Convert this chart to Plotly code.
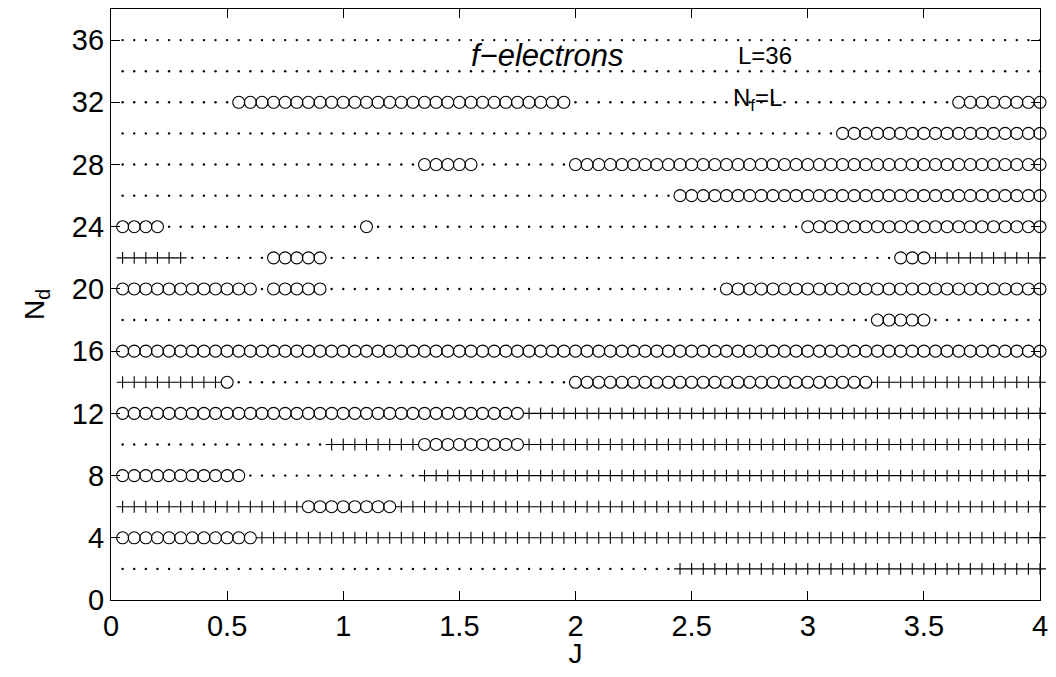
import plotly.graph_objects as go

# J grid: 0.05 ... 4.00 (80 points)
J_VALUES = [round(0.05 * k, 2) for k in range(1, 81)]

# Each row of N_d: run-length encoded marker codes ('.' dot, 'o' circle, '+' plus)
ROWS = {
    36: [(".", 80)],
    34: [(".", 80)],
    32: [(".", 10), ("o", 29), (".", 33), ("o", 8)],
    30: [(".", 62), ("o", 18)],
    28: [(".", 26), ("o", 5), (".", 8), ("o", 41)],
    26: [(".", 48), ("o", 32)],
    24: [("o", 4), (".", 17), ("o", 1), (".", 37), ("o", 21)],
    22: [("+", 6), (".", 7), ("o", 5), (".", 49), ("o", 3), ("+", 10)],
    20: [("o", 12), (".", 1), ("o", 5), (".", 34), ("o", 28)],
    18: [(".", 65), ("o", 5), (".", 10)],
    16: [("o", 80)],
    14: [("+", 9), ("o", 1), (".", 29), ("o", 26), ("+", 15)],
    12: [("o", 35), ("+", 45)],
    10: [(".", 18), ("+", 8), ("o", 9), ("+", 45)],
    8: [("o", 11), (".", 15), ("+", 54)],
    6: [("+", 16), ("o", 8), ("+", 56)],
    4: [("o", 12), ("+", 68)],
    2: [(".", 48), ("+", 32)],
}

X_TICKS = [0, 0.5, 1, 1.5, 2, 2.5, 3, 3.5, 4]
X_TICK_TEXT = ["0", "0.5", "1", "1.5", "2", "2.5", "3", "3.5", "4"]
Y_TICKS = [0, 4, 8, 12, 16, 20, 24, 28, 32, 36]

pts = {".": ([], []), "o": ([], []), "+": ([], [])}
for nd, runs in ROWS.items():
    codes = []
    for c, n in runs:
        codes += [c] * n
    for j, c in zip(J_VALUES, codes):
        pts[c][0].append(j)
        pts[c][1].append(nd)

fig = go.Figure()
fig.add_trace(go.Scatter(x=pts["."][0], y=pts["."][1], mode="markers",
                         marker=dict(symbol="circle", size=2.4, color="black", line=dict(width=0)),
                         showlegend=False, hoverinfo="skip", cliponaxis=False))
fig.add_trace(go.Scatter(x=pts["o"][0], y=pts["o"][1], mode="markers",
                         marker=dict(symbol="circle-open", size=12, color="black", line=dict(width=1.1)),
                         showlegend=False, cliponaxis=False))
fig.add_trace(go.Scatter(x=pts["+"][0], y=pts["+"][1], mode="markers",
                         marker=dict(symbol="cross-thin-open", size=8.5, color="black", line=dict(width=1.1)),
                         showlegend=False, cliponaxis=False))

FONT = "Liberation Sans, Arial, Helvetica, sans-serif"
axis_common = dict(showline=True, linecolor="black", linewidth=1.3, mirror="allticks",
                   ticks="inside", ticklen=9, tickcolor="black", tickwidth=1,
                   showgrid=False, zeroline=False, ticklabeloverflow="allow",
                   tickfont=dict(family=FONT, size=29, color="black"))

fig.update_xaxes(range=[0, 4], tickvals=X_TICKS, ticktext=X_TICK_TEXT,
                 title=dict(text="J", font=dict(family=FONT, size=28, color="black"), standoff=2),
                 **axis_common)
fig.update_yaxes(range=[0, 38], tickvals=Y_TICKS,
                 title=dict(text="N<sub>d</sub>", font=dict(family=FONT, size=28, color="black"), standoff=18),
                 **axis_common)

fig.add_annotation(x=1.88, y=35.0, text="<i>f−electrons</i>", showarrow=False,
                   font=dict(family=FONT, size=31, color="black"), xanchor="center", yanchor="middle")
fig.add_annotation(x=2.69, y=35.0, text="L=36", showarrow=False,
                   font=dict(family=FONT, size=24, color="black"), xanchor="left", yanchor="middle")
fig.add_annotation(x=2.67, y=32.2, text="N<sub>f</sub>=L", showarrow=False,
                   font=dict(family=FONT, size=24, color="black"), xanchor="left", yanchor="middle")

# page body has an 8px margin, so the figure is sized to fit inside the window
fig.update_layout(width=1040, height=661, margin=dict(l=103, r=8, t=1, b=69),
                  plot_bgcolor="white", paper_bgcolor="white")
fig.write_html("out.html")
